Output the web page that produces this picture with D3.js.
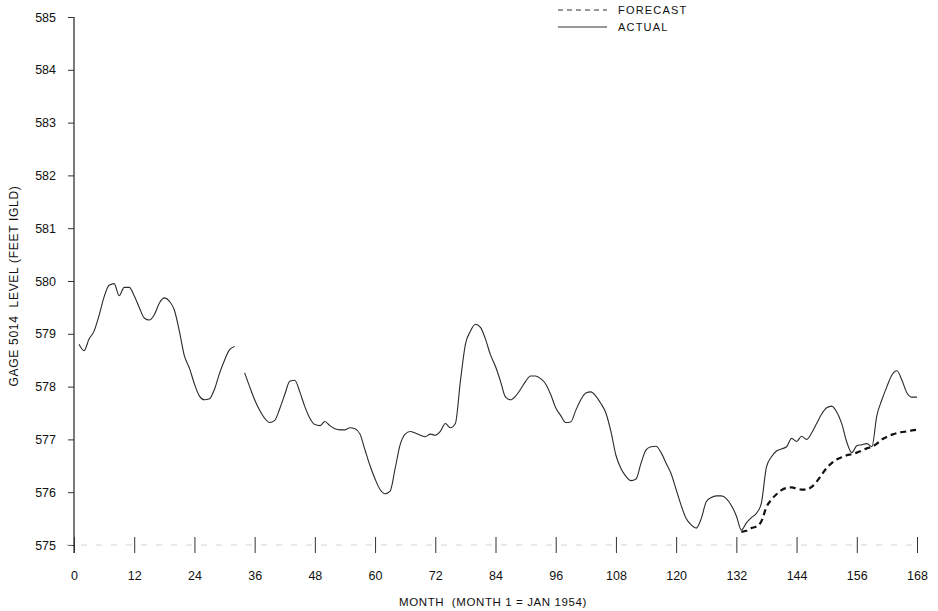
<!DOCTYPE html>
<html>
<head>
<meta charset="utf-8">
<script src="https://cdn.jsdelivr.net/npm/d3@7"></script>
<style>
  html, body { margin: 0; padding: 0; background: #fff; }
  svg text { font-family: "Liberation Sans", Arial, Helvetica, sans-serif; fill: #111; white-space: pre; }
</style>
</head>
<body>
<svg id="chart" width="938" height="611"></svg>
<script>
// Gage 5014 monthly water level, month 1 = Jan 1954 (null = gap in record)
const actualLevels = [
  578.80, 578.68, 578.90, 579.05, 579.35, 579.70, 579.92, 579.95, 579.72, 579.88,
  579.88, 579.72, 579.50, 579.30, 579.26, 579.36, 579.58, 579.68, 579.62, 579.45,
  579.05, 578.58, 578.35, 578.05, 577.82, 577.75, 577.77, 577.95, 578.25, 578.50,
  578.70, 578.76, null,   578.26, 578.00, 577.75, 577.55, 577.40, 577.32, 577.36,
  577.58, 577.85, 578.10, 578.12, 577.90, 577.62, 577.40, 577.28, 577.26, 577.34,
  577.26, 577.20, 577.18, 577.18, 577.22, 577.20, 577.10, 576.80, 576.50, 576.25,
  576.05, 575.97, 576.02, 576.45, 576.90, 577.10, 577.15, 577.12, 577.08, 577.05,
  577.10, 577.08, 577.15, 577.30, 577.22, 577.30, 578.10, 578.80, 579.05, 579.18,
  579.12, 578.90, 578.60, 578.38, 578.10, 577.80, 577.75, 577.82, 577.95, 578.10,
  578.20, 578.20, 578.15, 578.05, 577.85, 577.60, 577.45, 577.32, 577.33, 577.55,
  577.75, 577.88, 577.90, 577.82, 577.68, 577.50, 577.15, 576.70, 576.45, 576.30,
  576.22, 576.25, 576.55, 576.80, 576.86, 576.87, 576.75, 576.55, 576.35, 576.05,
  575.75, 575.50, 575.38, 575.32, 575.50, 575.82, 575.90, 575.93, 575.93, 575.88,
  575.75, 575.55, 575.28, 575.42, 575.52, 575.60, 575.80, 576.48, 576.67, 576.78,
  576.82, 576.86, 577.02, 576.96, 577.06, 577.00, 577.12, 577.30, 577.48, 577.60,
  577.63, 577.52, 577.30, 576.95, 576.75, 576.88, 576.90, 576.92, 576.86, 577.45,
  577.75, 578.00, 578.22, 578.30, 578.12, 577.88, 577.80, 577.80
];
const actualStartMonth = 1;

// Forecast run beginning at month 133
const forecastLevels = [
  575.25, 575.27, 575.32, 575.35, 575.45, 575.72, 575.86, 575.96, 576.04, 576.08,
  576.09, 576.07, 576.05, 576.05, 576.10, 576.20, 576.33, 576.46, 576.55, 576.62,
  576.66, 576.70, 576.72, 576.75, 576.79, 576.83, 576.86, 576.92, 577.00, 577.05,
  577.09, 577.12, 577.14, 577.15, 577.17, 577.18
];
const forecastStartMonth = 133;

const monthTicks = [0, 12, 24, 36, 48, 60, 72, 84, 96, 108, 120, 132, 144, 156, 168];
const levelTicks = [575, 576, 577, 578, 579, 580, 581, 582, 583, 584, 585];

const svg = d3.select("#chart");
const x = d3.scaleLinear().domain([0, 168]).range([74, 917]);
const y = d3.scaleLinear().domain([575, 585]).range([545, 17]);

const actual = actualLevels.map((v, i) => ({ m: actualStartMonth + i, v }));
const forecast = forecastLevels.map((v, i) => ({ m: forecastStartMonth + i, v }));

// Y axis: vertical rule with short ticks on the left
svg.append("line")
  .attr("x1", x(0)).attr("x2", x(0))
  .attr("y1", y(585)).attr("y2", y(575) + 8)
  .attr("stroke", "#222").attr("stroke-width", 1.2);

const yAxis = d3.axisLeft(y).tickValues(levelTicks).tickSize(6).tickPadding(12)
  .tickFormat(d3.format("d"));
const gy = svg.append("g").attr("transform", `translate(${x(0)},0)`).call(yAxis);
gy.select(".domain").remove();
gy.selectAll(".tick line").attr("stroke", "#333").attr("stroke-width", 1);
gy.selectAll(".tick text").attr("font-size", 12.5).attr("fill", "#111");

// X axis: faint baseline with crossing tick marks
svg.append("line")
  .attr("x1", x(0) - 8).attr("x2", x(168))
  .attr("y1", y(575)).attr("y2", y(575))
  .attr("stroke", "#c8c8c8").attr("stroke-width", 0.8)
  .attr("stroke-dasharray", "6,9");

const xAxis = d3.axisBottom(x).tickValues(monthTicks).tickSize(8).tickPadding(18)
  .tickFormat(d3.format("d"));
const gx = svg.append("g").attr("transform", `translate(0,${y(575)})`).call(xAxis);
gx.select(".domain").remove();
gx.selectAll(".tick line").attr("y1", -8).attr("y2", 8)
  .attr("stroke", "#333").attr("stroke-width", 1);
gx.selectAll(".tick text").attr("font-size", 12.5).attr("fill", "#111");

// Axis titles
svg.append("text")
  .attr("x", 493).attr("y", 606)
  .attr("text-anchor", "middle").attr("font-size", 11.5).attr("letter-spacing", 0.6)
  .text("MONTH  (MONTH 1 = JAN 1954)");

svg.append("text")
  .attr("transform", "translate(18,286) rotate(-90)")
  .attr("text-anchor", "middle").attr("font-size", 12).attr("letter-spacing", 0.7)
  .text("GAGE 5014  LEVEL (FEET IGLD)");

// Series
const line = d3.line()
  .defined(d => d.v !== null)
  .x(d => x(d.m)).y(d => y(d.v))
  .curve(d3.curveMonotoneX);

svg.append("path").datum(actual)
  .attr("d", line)
  .attr("fill", "none").attr("stroke", "#2a2a2a").attr("stroke-width", 1.1);

svg.append("path").datum(forecast)
  .attr("d", line)
  .attr("fill", "none").attr("stroke", "#111").attr("stroke-width", 2.2)
  .attr("stroke-dasharray", "6,4");

// Legend
const legend = svg.append("g");
legend.append("line")
  .attr("x1", 558).attr("x2", 607).attr("y1", 10).attr("y2", 10)
  .attr("stroke", "#333").attr("stroke-width", 1.2).attr("stroke-dasharray", "5,4");
legend.append("text").attr("x", 618).attr("y", 14)
  .attr("font-size", 11).attr("letter-spacing", 1.2).text("FORECAST");
legend.append("line")
  .attr("x1", 558).attr("x2", 607).attr("y1", 27).attr("y2", 27)
  .attr("stroke", "#333").attr("stroke-width", 1.2);
legend.append("text").attr("x", 618).attr("y", 31)
  .attr("font-size", 11).attr("letter-spacing", 1.2).text("ACTUAL");
</script>
</body>
</html>
